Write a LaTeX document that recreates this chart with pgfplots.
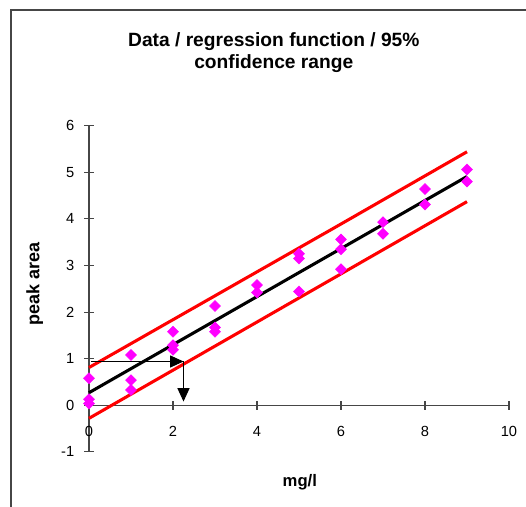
\documentclass[border=0pt]{standalone}
\usepackage{fontspec}
\setmainfont{Liberation Sans}
\usepackage{pgfplots}
\pgfplotsset{compat=1.18}
\usetikzlibrary{arrows.meta}
\definecolor{axgray}{RGB}{70,70,70}
\definecolor{mag}{RGB}{255,0,255}
\definecolor{bandred}{RGB}{255,0,0}
\begin{document}
\begin{tikzpicture}
\path[use as bounding box] (0,0) rectangle (394.5pt,380.25pt);
\draw[axgray, line width=1.1pt] (8.25pt,-2pt) -- (8.25pt,372.75pt) -- (400pt,372.75pt);
\begin{axis}[
  at={(66.75pt,76.28pt)}, anchor=origin,
  x=31.5pt, y=34.95pt,
  xmin=0, xmax=10, ymin=-1, ymax=6,
  enlargelimits=false,
  axis lines=middle,
  axis line style={-, axgray, line width=0.9pt},
  hide obscured x ticks=false, hide obscured y ticks=false,
  xtick={0,2,4,6,8,10}, ytick={-1,0,1,2,3,4,5,6},
  tick align=center, major tick length=7pt,
  tick style={axgray, line width=0.8pt},
  /pgf/number format/assume math mode=true,
  ticklabel style={font=\fontsize{11}{12}\selectfont},
  xticklabel style={yshift=-9pt},
  yticklabel style={xshift=-4pt},
  clip=false,
  title={Data / regression function / 95\%\\confidence range},
  title style={at={(axis cs:4.4,7.40)}, anchor=center, align=center, font=\bfseries\fontsize{14.4}{17}\selectfont},
  xlabel={mg/l},
  xlabel style={at={(axis cs:5.02,-1.66)}, anchor=center, font=\bfseries\fontsize{12.5}{14}\selectfont},
  ylabel={peak area},
  ylabel style={at={(axis cs:-1.29,2.6)}, anchor=center, rotate=90, font=\bfseries\fontsize{13.5}{15}\selectfont},
]
\addplot[bandred, line width=2.3pt] coordinates {(0,0.81) (3,2.35) (6,3.89) (9,5.44)};
\addplot[bandred, line width=2.3pt] coordinates {(0,-0.28) (3,1.27) (6,2.82) (9,4.37)};
\addplot[black, line width=2.3pt] coordinates {(0,0.27) (9,4.91)};
\addplot[only marks, mark=square*, mark size=2.9pt, mark options={rotate=45, fill=mag, draw=mag}] coordinates {
(0,0.58) (0,0.13) (0,0.04)
(1,1.08) (1,0.54) (1,0.33)
(2,1.58) (2,1.29) (2,1.19)
(3,2.13) (3,1.67) (3,1.58)
(4,2.58) (4,2.42)
(5,3.25) (5,3.15) (5,2.44)
(6,3.56) (6,3.35) (6,2.92)
(7,3.93) (7,3.68)
(8,4.64) (8,4.31)
(9,5.06) (9,4.80)
};
\addplot[black, line width=0.75pt, -{Triangle[length=10pt,width=9pt]}] coordinates {(0.05,0.94) (2.25,0.94)};
\addplot[black, line width=0.75pt, -{Triangle[length=10pt,width=9pt]}] coordinates {(2.25,0.94) (2.25,0.08)};
\end{axis}
\end{tikzpicture}
\end{document}
